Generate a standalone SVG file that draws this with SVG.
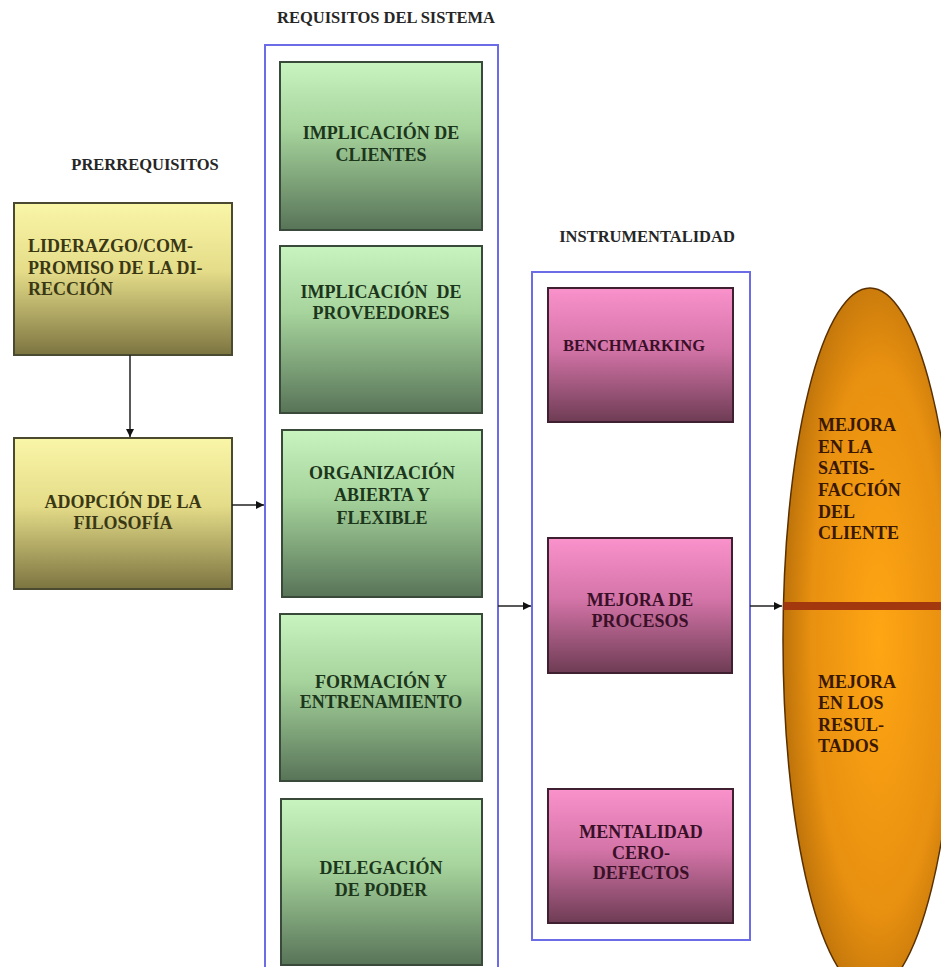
<svg xmlns="http://www.w3.org/2000/svg" width="941" height="967" viewBox="0 0 941 967">
  <defs>
    <linearGradient id="gYellow" x1="0" y1="0" x2="0" y2="1">
      <stop offset="0" stop-color="#faf6a8"/>
      <stop offset="0.45" stop-color="#e4dc88"/>
      <stop offset="1" stop-color="#7c7440"/>
    </linearGradient>
    <linearGradient id="gGreen" x1="0" y1="0" x2="0" y2="1">
      <stop offset="0" stop-color="#c8f4c0"/>
      <stop offset="0.4" stop-color="#a6d49c"/>
      <stop offset="1" stop-color="#587458"/>
    </linearGradient>
    <linearGradient id="gPink" x1="0" y1="0" x2="0" y2="1">
      <stop offset="0" stop-color="#fa92cc"/>
      <stop offset="0.45" stop-color="#d474a8"/>
      <stop offset="1" stop-color="#6e3c54"/>
    </linearGradient>
    <radialGradient id="gOrange" cx="0.55" cy="0.5" r="0.6">
      <stop offset="0" stop-color="#ffa614"/>
      <stop offset="0.65" stop-color="#e89010"/>
      <stop offset="1" stop-color="#b06a08"/>
    </radialGradient>
    <clipPath id="ovalClip">
      <ellipse cx="870" cy="640" rx="87" ry="352"/>
    </clipPath>
    <marker id="arrow" viewBox="0 0 10 10" refX="10" refY="5" markerWidth="8" markerHeight="8" markerUnits="userSpaceOnUse" orient="auto">
      <path d="M0,0 L10,5 L0,10 z" fill="#111"/>
    </marker>
  </defs>
  <style>
    .label { font-family: "Liberation Serif", "Times New Roman", serif; font-weight: bold; font-size: 16.5px; fill: #262626; }
    .txt { font-family: "Liberation Serif", "Times New Roman", serif; font-weight: bold; font-size: 18px; }
    .c { text-anchor: middle; }
    .container { fill: none; stroke: #6c6ce6; stroke-width: 2; }
    .yellow rect { fill: url(#gYellow); stroke: #4a4a30; stroke-width: 2; }
    .yellow text { fill: #3a3814; }
    .green rect { fill: url(#gGreen); stroke: #3a4a3a; stroke-width: 2; }
    .green text { fill: #1c361c; }
    .pink rect { fill: url(#gPink); stroke: #3e2030; stroke-width: 2; }
    .pink text { fill: #3a1028; }
    .oval text { fill: #3a1800; }
    .conn line { stroke: #222; stroke-width: 1.5; marker-end: url(#arrow); }
  </style>

  <rect x="0" y="0" width="941" height="967" fill="#ffffff"/>

  <!-- Section titles -->
  <text class="label" x="145" y="170" text-anchor="middle">PRERREQUISITOS</text>
  <text class="label" x="386" y="23" text-anchor="middle">REQUISITOS DEL SISTEMA</text>
  <text class="label" x="647" y="242" text-anchor="middle">INSTRUMENTALIDAD</text>

  <!-- Grouping frames -->
  <rect id="frame-sistema" class="container" x="265" y="45" width="233" height="940"/>
  <rect id="frame-instrumentalidad" class="container" x="532" y="272" width="218" height="668"/>

  <!-- Prerequisites -->
  <g id="liderazgo" class="yellow">
    <rect x="14" y="203" width="218" height="152"/>
    <text class="txt" x="28" y="252">LIDERAZGO/COM-</text>
    <text class="txt" x="28" y="274">PROMISO DE LA DI-</text>
    <text class="txt" x="28" y="295">RECCIÓN</text>
  </g>
  <g id="adopcion" class="yellow">
    <rect x="14" y="438" width="218" height="151"/>
    <text class="txt c" x="123" y="508">ADOPCIÓN DE LA</text>
    <text class="txt c" x="123" y="529">FILOSOFÍA</text>
  </g>

  <!-- System requirements -->
  <g id="clientes" class="green">
    <rect x="280" y="62" width="202" height="168"/>
    <text class="txt c" x="381" y="139">IMPLICACIÓN DE</text>
    <text class="txt c" x="381" y="161">CLIENTES</text>
  </g>
  <g id="proveedores" class="green">
    <rect x="280" y="246" width="202" height="167"/>
    <text class="txt c" x="381" y="298" xml:space="preserve">IMPLICACIÓN  DE</text>
    <text class="txt c" x="381" y="319">PROVEEDORES</text>
  </g>
  <g id="organizacion" class="green">
    <rect x="282" y="430" width="200" height="167"/>
    <text class="txt c" x="382" y="479">ORGANIZACIÓN</text>
    <text class="txt c" x="382" y="501">ABIERTA Y</text>
    <text class="txt c" x="382" y="524">FLEXIBLE</text>
  </g>
  <g id="formacion" class="green">
    <rect x="280" y="614" width="202" height="167"/>
    <text class="txt c" x="381" y="688">FORMACIÓN Y</text>
    <text class="txt c" x="381" y="708">ENTRENAMIENTO</text>
  </g>
  <g id="delegacion" class="green">
    <rect x="281" y="799" width="201" height="166"/>
    <text class="txt c" x="381" y="874">DELEGACIÓN</text>
    <text class="txt c" x="381" y="896">DE PODER</text>
  </g>

  <!-- Instruments -->
  <g id="benchmarking" class="pink">
    <rect x="548" y="288" width="185" height="134"/>
    <text class="txt c" x="634" y="351" style="font-size:16.5px">BENCHMARKING</text>
  </g>
  <g id="procesos" class="pink">
    <rect x="548" y="538" width="184" height="135"/>
    <text class="txt c" x="640" y="606">MEJORA DE</text>
    <text class="txt c" x="640" y="627">PROCESOS</text>
  </g>
  <g id="cero-defectos" class="pink">
    <rect x="548" y="789" width="185" height="134"/>
    <text class="txt c" x="641" y="838">MENTALIDAD</text>
    <text class="txt c" x="641" y="859">CERO-</text>
    <text class="txt c" x="641" y="879">DEFECTOS</text>
  </g>

  <!-- Results -->
  <g id="resultados" class="oval">
    <ellipse cx="870" cy="640" rx="87" ry="352" fill="url(#gOrange)" stroke="#5a3000" stroke-width="1.5"/>
    <rect x="780" y="602" width="170" height="8" fill="#a3380e" clip-path="url(#ovalClip)"/>
    <text class="txt" x="818" y="431">MEJORA</text>
    <text class="txt" x="818" y="453">EN LA</text>
    <text class="txt" x="818" y="474">SATIS-</text>
    <text class="txt" x="818" y="496">FACCIÓN</text>
    <text class="txt" x="818" y="518">DEL</text>
    <text class="txt" x="818" y="539">CLIENTE</text>
    <text class="txt" x="818" y="688">MEJORA</text>
    <text class="txt" x="818" y="709">EN LOS</text>
    <text class="txt" x="818" y="731">RESUL-</text>
    <text class="txt" x="818" y="752">TADOS</text>
  </g>

  <!-- Connectors -->
  <g id="connectors" class="conn">
    <line x1="130" y1="355" x2="130" y2="437"/>
    <line x1="232" y1="505" x2="264" y2="505"/>
    <line x1="498" y1="606" x2="531" y2="606"/>
    <line x1="750" y1="606" x2="782" y2="606"/>
  </g>
</svg>
